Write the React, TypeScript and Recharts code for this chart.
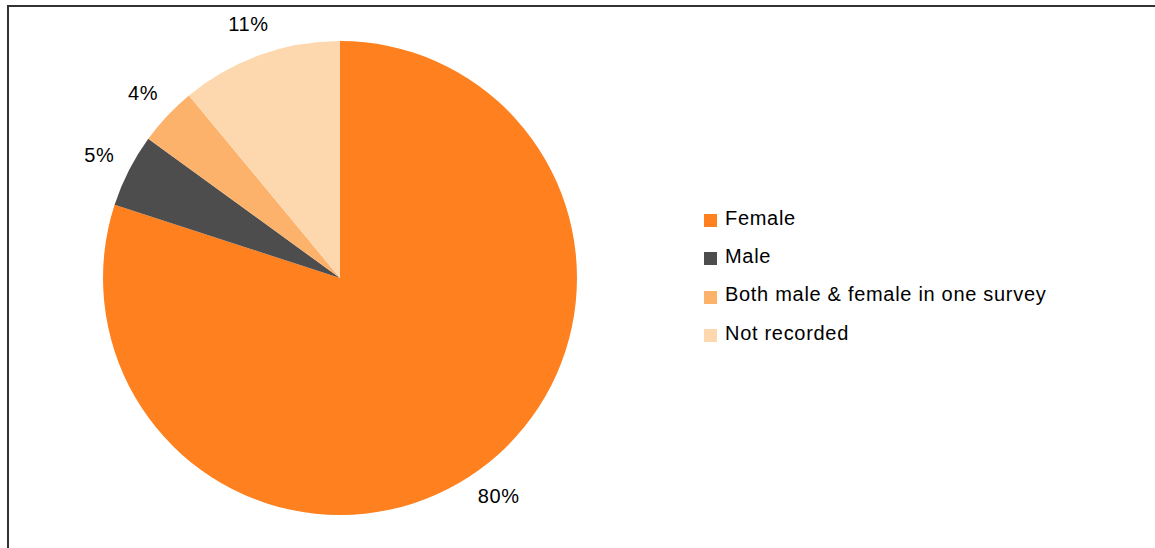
import { Legend, Pie, PieChart, Cell } from "recharts"

const categories = ["Female", "Male", "Both male & female in one survey", "Not recorded"]
const shares = [80, 5, 4, 11]
const colors = ["#FF801F", "#4D4D4D", "#FCB26A", "#FDD8AF"]

const data = categories.map((name, i) => ({ name, value: shares[i] }))

const RADIAN = Math.PI / 180
const font = '"Liberation Sans", Arial, sans-serif'

const renderLabel = (props: any) => {
  const { cx, cy, midAngle, outerRadius, value } = props
  const r = outerRadius + 33
  const x = cx + r * Math.cos(-midAngle * RADIAN)
  const y = cy + r * Math.sin(-midAngle * RADIAN)
  return (
    <text
      x={x}
      y={y}
      fill="#000"
      fontSize={20}
      letterSpacing={0.7}
      fontFamily={font}
      textAnchor="middle"
      dominantBaseline="central"
    >
      {`${value}%`}
    </text>
  )
}

const renderLegend = () => (
  <div style={{ fontFamily: font, fontSize: 20, letterSpacing: 0.7, color: "#000" }}>
    {categories.map((name, i) => (
      <div key={name} style={{ height: 38.3, display: "flex", alignItems: "center" }}>
        <span
          style={{
            display: "inline-block",
            width: 13,
            height: 13,
            background: colors[i],
            marginRight: 8,
            marginTop: 5,
          }}
        />
        <span>{name}</span>
      </div>
    ))}
  </div>
)

export default function App() {
  return (
    <div style={{ position: "fixed", left: 0, top: 0, width: 1155, height: 548, overflow: "hidden", background: "#fff" }}>
      <div
        style={{
          position: "absolute",
          left: 7,
          top: 5,
          width: 1200,
          height: 600,
          borderLeft: "2px solid #333",
          borderTop: "2px solid #333",
        }}
      />
      <div style={{ position: "absolute", left: 0, top: 0 }}>
        <PieChart width={1155} height={548} margin={{ top: 0, right: 0, bottom: 0, left: 0 }}>
          <Pie
            data={data}
            dataKey="value"
            nameKey="name"
            cx={340}
            cy={278}
            outerRadius={237}
            startAngle={90}
            endAngle={-270}
            stroke="none"
            label={renderLabel}
            labelLine={false}
            isAnimationActive={false}
          >
            {data.map((d, i) => (
              <Cell key={d.name} fill={colors[i]} />
            ))}
          </Pie>
          <Legend
            content={renderLegend}
            wrapperStyle={{ position: "absolute", left: 704, top: 199, width: 440 }}
          />
        </PieChart>
      </div>
    </div>
  )
}
